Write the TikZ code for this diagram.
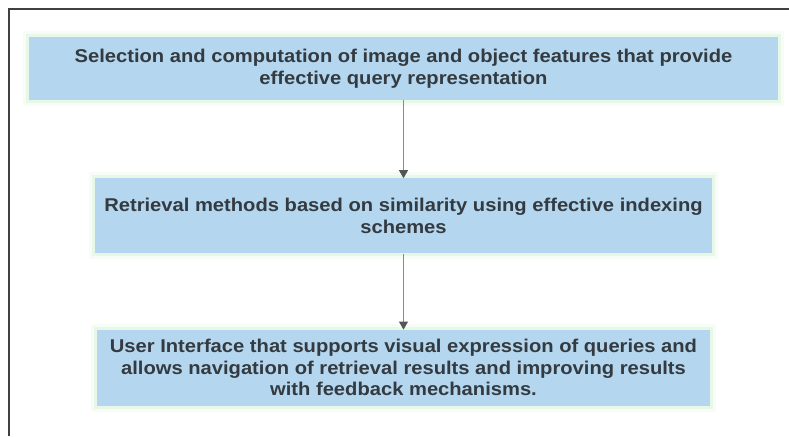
\documentclass[tikz,border=0pt]{standalone}
\usepackage{fontspec}
\setmainfont[FakeStretch=1.09]{Liberation Sans}
\usetikzlibrary{positioning, arrows.meta}
\usepackage{xcolor}
\definecolor{cbblue}{HTML}{B4D6EE}
\definecolor{cbglow}{HTML}{D2EFD2}
\definecolor{cbtext}{HTML}{333A40}
\definecolor{cbline}{HTML}{8A8A8A}
\definecolor{cbtip}{HTML}{555555}
\definecolor{cbframe}{HTML}{404040}

\begin{document}
\begin{tikzpicture}[
          b/.style={fill=cbblue, draw=none, text=cbtext, font=\fontsize{18.5}{21.5}\selectfont\bfseries, align=center, inner sep=0pt,
                    preaction={draw=cbglow, line width=12pt, draw opacity=0.2},
                    preaction={draw=cbglow, line width=6pt, draw opacity=0.35}},
          link/.style={-{Triangle[length=8pt, width=9pt, color=cbtip]}, color=cbline, line width=0.9pt}]
        \useasboundingbox (0,0) rectangle (789pt,436pt);
        \draw[cbframe, line width=1.1pt] (9pt,0) -- (9pt,427pt) -- (789pt,427pt);
        \node[b, minimum width=749pt, minimum height=63pt] (sel) at (403.5pt,367.5pt) {Selection and computation of image and object features that provide\\effective query representation};
        \node[b, minimum width=617pt, minimum height=75pt, below=78pt of sel] (ret) {Retrieval methods based on similarity using effective indexing\\schemes};
        \node[b, minimum width=613pt, minimum height=76pt, below=76pt of ret] (ui) {User Interface that supports visual expression of queries and\\allows navigation of retrieval results and improving results\\with feedback mechanisms.};
        \draw[link] (sel) -- (ret);
        \draw[link] (ret) -- (ui);
      \end{tikzpicture}
\end{document}
